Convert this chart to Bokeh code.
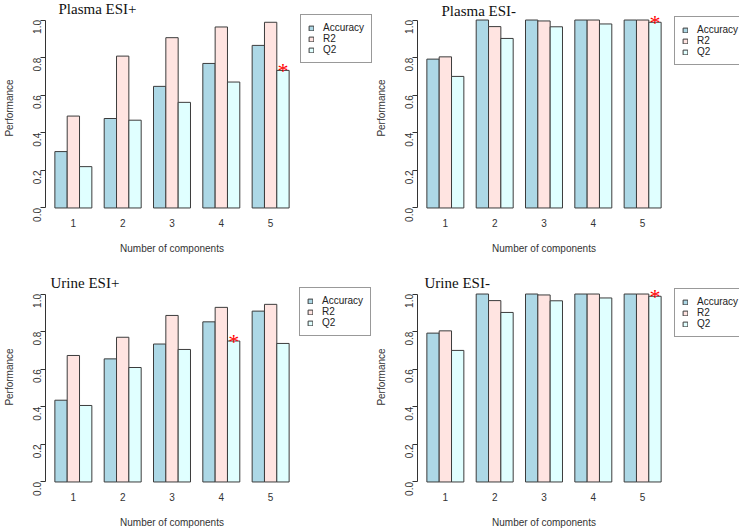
import math
from bokeh.plotting import figure
from bokeh.models import (Range1d, FixedTicker, PrintfTickFormatter, Legend,
                          LegendItem, Label, ColumnDataSource)
from bokeh.layouts import column, row
from bokeh.transform import dodge
from bokeh.embed import file_html
from bokeh.resources import INLINE
from bokeh.core.properties import value

# ---------------- data ----------------
components = [1, 2, 3, 4, 5]
series_names = ["Accuracy", "R2", "Q2"]
y_ticks = [0.0, 0.2, 0.4, 0.6, 0.8, 1.0]

plasma_pos_accuracy = [0.300, 0.476, 0.647, 0.769, 0.865]
plasma_pos_r2 = [0.489, 0.808, 0.906, 0.963, 0.988]
plasma_pos_q2 = [0.220, 0.467, 0.562, 0.670, 0.732]
plasma_pos_star = 5

plasma_neg_accuracy = [0.792, 1.0, 1.0, 1.0, 1.0]
plasma_neg_r2 = [0.804, 0.965, 0.995, 1.0, 1.0]
plasma_neg_q2 = [0.700, 0.902, 0.964, 0.979, 0.988]
plasma_neg_star = 5

urine_pos_accuracy = [0.435, 0.655, 0.734, 0.852, 0.909]
urine_pos_r2 = [0.673, 0.770, 0.886, 0.929, 0.945]
urine_pos_q2 = [0.407, 0.609, 0.705, 0.750, 0.737]
urine_pos_star = 4

urine_neg_accuracy = [0.792, 1.0, 1.0, 1.0, 1.0]
urine_neg_r2 = [0.804, 0.965, 0.995, 1.0, 1.0]
urine_neg_q2 = [0.700, 0.902, 0.964, 0.979, 0.988]
urine_neg_star = 5

# ---------------- style ----------------
COLORS = ["#ADD8E6", "#FFE4E1", "#E0FFFF"]
OFFSETS = [-0.25, 0.0, 0.25]
EDGE = "#3c3c3c"
SANS = "Liberation Sans"
SERIF = "Liberation Serif"
X_START, X_END = 0.435, 5.565     # R-style plot region (4% padding)
Y_START = -0.04
FRAME_W = 253
PX_PER_Y = 203 / 1.08
ROW_H = 264


def make_panel(title, series, star_comp, bottom_border, frame_h, title_pos):
    y_end = Y_START + frame_h / PX_PER_Y
    p = figure(output_backend="svg", toolbar_location=None,
               frame_width=FRAME_W, frame_height=frame_h,
               min_border_left=43, min_border_right=0,
               min_border_top=0, min_border_bottom=bottom_border,
               x_range=Range1d(X_START, X_END), y_range=Range1d(Y_START, y_end))
    p.outline_line_color = None
    p.grid.visible = False
    p.background_fill_color = "white"
    p.border_fill_color = "white"

    for name, vals, off, col in zip(series_names, series, OFFSETS, COLORS):
        src = ColumnDataSource(dict(comp=components, top=vals))
        p.vbar(x=dodge("comp", off), top="top", bottom=0, width=0.25,
               source=src, fill_color=col, line_color=EDGE, line_width=1)

    # star marking the selected model (on the Q2 bar)
    q2 = series[2]
    idx = components.index(star_comp)
    star_src = ColumnDataSource(dict(comp=[star_comp], y=[q2[idx]], t=["*"]))
    p.text(x=dodge("comp", OFFSETS[2]), y="y", text="t", source=star_src,
           text_color="red", text_font=value(SERIF), text_font_size="22px",
           text_align="center", text_baseline="middle")

    # axes
    xa = p.xaxis[0]
    xa.ticker = FixedTicker(ticks=components)
    xa.axis_line_color = None
    xa.major_tick_line_color = None
    xa.minor_tick_line_color = None
    xa.major_tick_out = 0
    xa.major_tick_in = 0
    xa.major_label_standoff = 3
    xa.major_label_text_font = SANS
    xa.major_label_text_font_size = "10px"
    xa.major_label_text_color = "#333333"
    xa.axis_label = "Number of components"
    xa.axis_label_text_font = SANS
    xa.axis_label_text_font_size = "10px"
    xa.axis_label_text_font_style = "normal"
    xa.axis_label_text_color = "#333333"
    xa.axis_label_standoff = 13

    ya = p.yaxis[0]
    ya.ticker = FixedTicker(ticks=y_ticks)
    ya.formatter = PrintfTickFormatter(format="%.1f")
    ya.bounds = (0, 1)
    ya.axis_line_color = "#333333"
    ya.major_tick_line_color = "#333333"
    ya.minor_tick_line_color = None
    ya.major_tick_out = 5
    ya.major_tick_in = 0
    ya.major_label_orientation = math.pi / 2
    ya.major_label_standoff = 3
    ya.major_label_text_font = SANS
    ya.major_label_text_font_size = "10px"
    ya.major_label_text_color = "#333333"
    ya.axis_label = "Performance"
    ya.axis_label_text_font = SANS
    ya.axis_label_text_font_size = "10px"
    ya.axis_label_text_font_style = "normal"
    ya.axis_label_text_color = "#333333"
    ya.axis_label_standoff = 12

    p.add_layout(Label(x=title_pos[0], y=title_pos[1], x_units="screen",
                       y_units="screen", text=title, text_font=SERIF,
                       text_font_size="15px", text_color="#111111",
                       text_baseline="alphabetic"))
    return p


def make_legend(width, series, legend_pos):
    # a narrow companion figure that only carries the legend box;
    # its bars sit outside the visible x range, so only the legend shows
    lf = figure(output_backend="svg", toolbar_location=None,
                width=width, height=ROW_H, min_border=0,
                x_axis_type=None, y_axis_type=None,
                x_range=Range1d(-2, -1), y_range=Range1d(0, 1))
    lf.outline_line_color = None
    lf.grid.visible = False
    lf.background_fill_color = "white"
    lf.border_fill_color = "white"
    items = []
    for name, vals, col in zip(series_names, series, COLORS):
        src = ColumnDataSource(dict(comp=components, top=vals))
        r = lf.vbar(x="comp", top="top", width=0.25, source=src,
                    fill_color=col, line_color=EDGE, line_width=1)
        items.append(LegendItem(label=name, renderers=[r]))
    legend = Legend(items=items, location=legend_pos,
                    label_text_font=SANS, label_text_font_size="10px",
                    label_text_color="#222222",
                    glyph_width=6, glyph_height=6, label_height=11,
                    label_standoff=9, spacing=0, padding=7, margin=0,
                    border_line_color="#333333", border_line_width=1,
                    background_fill_color="white", background_fill_alpha=1.0)
    lf.add_layout(legend, "center")
    return lf


s1 = [plasma_pos_accuracy, plasma_pos_r2, plasma_pos_q2]
s2 = [plasma_neg_accuracy, plasma_neg_r2, plasma_neg_q2]
s3 = [urine_pos_accuracy, urine_pos_r2, urine_pos_q2]
s4 = [urine_neg_accuracy, urine_neg_r2, urine_neg_q2]

p1 = make_panel("Plasma ESI+", s1, plasma_pos_star, 49, 215, (13, 207))
l1 = make_legend(74, s1, (2, 152))
p2 = make_panel("Plasma ESI-", s2, plasma_neg_star, 49, 215, (24, 205))
l2 = make_legend(73, s2, (4, 150))
p3 = make_panel("Urine ESI+", s3, urine_pos_star, 39, 225, (5, 207))
l3 = make_legend(74, s3, (1, 151))
p4 = make_panel("Urine ESI-", s4, urine_neg_star, 39, 225, (7, 207))
l4 = make_legend(73, s4, (4, 150))

layout = column(row(p1, l1, p2, l2), row(p3, l3, p4, l4))

open("out.html", "w").write(file_html(layout, INLINE))
